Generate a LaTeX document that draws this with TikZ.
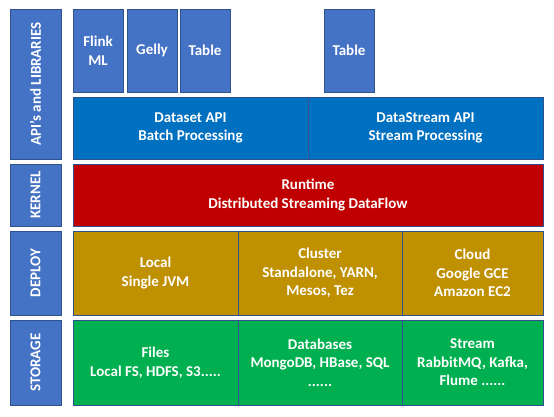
\documentclass[tikz,border=0pt]{standalone}
\usepackage{fontspec}
\setmainfont{Carlito}
\usetikzlibrary{positioning}
\definecolor{labelblue}{HTML}{4472C4}
\definecolor{apiblue}{HTML}{0070C0}
\definecolor{kernelred}{HTML}{C00000}
\definecolor{deploygold}{HTML}{BF9000}
\definecolor{storagegreen}{HTML}{00B050}
\definecolor{edgeblue}{HTML}{2F528F}
\tikzset{node distance=5pt,
    every node/.style={
        text=white,
        font=\bfseries\fontsize{15}{18.5}\selectfont,
        align=center,
        inner sep=0pt,
        outer sep=0pt},
    block/.style={
        draw=edgeblue,
        line width=0.8pt,
        fill=#1},
    layer/.style={
        block=labelblue,
        minimum height=51pt,
        rotate=90},
    lib/.style={
        block=labelblue,
        minimum width=50pt,
        minimum height=83pt,
        anchor=north west}}

\begin{document}
\begin{tikzpicture}[x=1pt,y=-1pt]
        \useasboundingbox (0,0) rectangle (554,416);

        % layer labels on the left
        \node[layer,minimum width=150pt] (apis) at (35.5,84) {API’s and LIBRARIES};
        \node[layer,minimum width=62pt] (kernel) at (35.5,195) {KERNEL};
        \node[layer,minimum width=84pt] (deploy) at (35.5,273) {DEPLOY};
        \node[layer,minimum width=85pt] (storage) at (35.5,362.5) {STORAGE};

        % libraries
        \node[lib] (flinkml) at (73,9) {Flink\\ML};
        \node[lib] (gelly) at (127,9) {Gelly};
        \node[lib] (table) at (180,9) {Table};
        \node[lib] (table2) at (324,9) {Table};

        % apis
        \node[block=apiblue,minimum width=235pt,minimum height=62pt,anchor=north west] (dataset) at (73,97) {Dataset API\\Batch Processing};
        \node[block=apiblue,minimum width=235pt,minimum height=62pt,right=0pt of dataset] (datastream) {DataStream API\\Stream Processing};

        % kernel
        \node[block=kernelred,minimum width=470pt,minimum height=62pt,anchor=north west] (runtime) at (73,164) {Runtime\\Distributed Streaming DataFlow};

        % deploy
        \node[block=deploygold,minimum width=165pt,minimum height=84pt,anchor=north west] (local) at (73,231) {Local\\Single JVM};
        \node[block=deploygold,minimum width=164pt,minimum height=84pt,right=0pt of local] (cluster) {Cluster\\Standalone, YARN,\\Mesos, Tez};
        \node[block=deploygold,minimum width=141pt,minimum height=84pt,right=0pt of cluster] (cloud) {Cloud\\Google GCE\\Amazon EC2};

        % storage
        \node[block=storagegreen,minimum width=165pt,minimum height=85pt,anchor=north west] (files) at (73,320) {Files\\Local FS, HDFS, S3.....};
        \node[block=storagegreen,minimum width=164pt,minimum height=85pt,right=0pt of files] (databases) {Databases\\MongoDB, HBase, SQL\\......};
        \node[block=storagegreen,minimum width=141pt,minimum height=85pt,right=0pt of databases] (stream) {Stream\\RabbitMQ, Kafka,\\Flume ......};
    \end{tikzpicture}
\end{document}
